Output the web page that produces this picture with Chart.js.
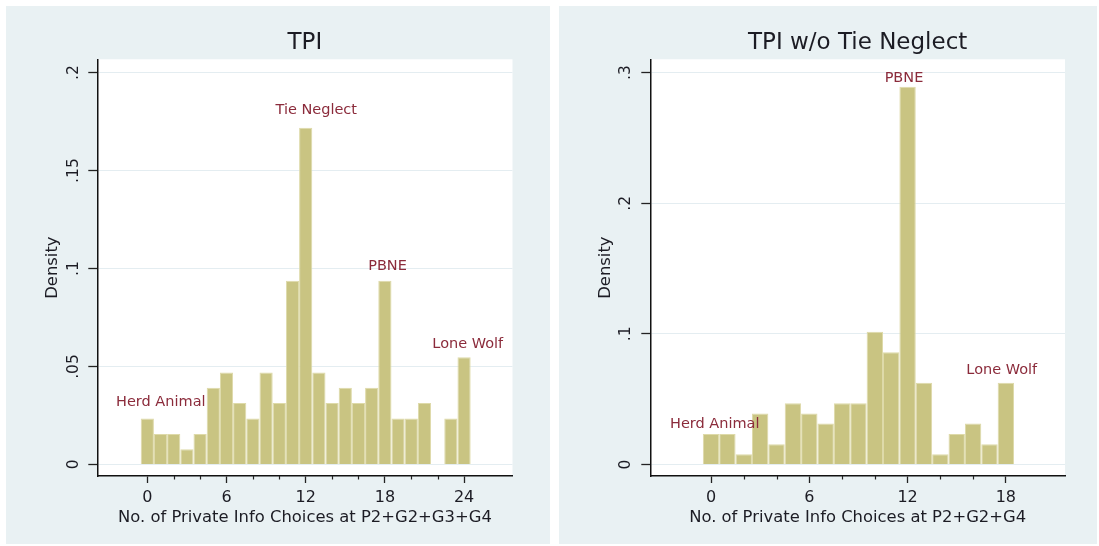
<!DOCTYPE html>
<html>
<head>
<meta charset="utf-8">
<script src="https://cdn.jsdelivr.net/npm/chart.js@4.4.1/dist/chart.umd.min.js"></script>
<style>
body{margin:0;background:#fff;width:1099px;height:546px;overflow:hidden;position:relative}
.panel{position:absolute;top:6px;height:538px;background:#e9f1f3}
</style>
</head>
<body>
<div class="panel" style="left:6px;width:544px"><canvas id="c1"></canvas></div>
<div class="panel" style="left:559px;width:538px"><canvas id="c2"></canvas></div>
<script>
// left panel: TPI
var leftValues = [0,1,2,3,4,5,6,7,8,9,10,11,12,13,14,15,16,17,18,19,20,21,22,23,24];
var leftDensity = [.0234,.0156,.0156,.0078,.0156,.0391,.0469,.0313,.0234,.0469,.0313,.0938,.1719,.0469,.0313,.0391,.0313,.0391,.0938,.0234,.0234,.0313,0,.0234,.0547];
var leftXTicks = [0,6,12,18,24];
var leftXMinor = [2,4,8,10,14,16,20,22];
var leftYTicks = [0,.05,.1,.15,.2];
var leftYLabels = ['0','.05','.1','.15','.2'];
var leftNotes = ['Herd Animal','Tie Neglect','PBNE','Lone Wolf'];
var leftNoteX = [1.02,12.8,18.2,24.28];
var leftNoteY = [.0317,.181,.101,.0615];

// right panel: TPI w/o Tie Neglect
var rightValues = [0,1,2,3,4,5,6,7,8,9,10,11,12,13,14,15,16,17,18];
var rightDensity = [.0234,.0234,.0078,.0391,.0156,.0469,.0391,.0313,.0469,.0469,.1016,.0859,.2891,.0625,.0078,.0234,.0313,.0156,.0625];
var rightXTicks = [0,6,12,18];
var rightXMinor = [2,4,8,10,14,16];
var rightYTicks = [0,.1,.2,.3];
var rightYLabels = ['0','.1','.2','.3'];
var rightNotes = ['Herd Animal','PBNE','Lone Wolf'];
var rightNoteX = [.23,11.78,17.75];
var rightNoteY = [.0309,.296,.0719];

Chart.defaults.font.family = '"DejaVu Sans", sans-serif';
var txt = '#1c1c24';

function hist(ctx,title,xTitle,cats,dens,xr,yr,xTicks,xMinor,yTicks,yLabels,yPad,notes,nx,ny,padRight){
    new Chart(ctx, {
        type: 'bar',
        data: {
            labels: cats,
            datasets: [{
                data: dens,
                backgroundColor: function(c){ return c.raw ? '#c9c482' : 'rgba(0,0,0,0)'; },
                borderColor: '#dedaa9',
                borderWidth: function(c){ return c.raw ? 1 : 0; },
                inflateAmount: 0,
                borderSkipped: 'start',
                barPercentage: 1,
                categoryPercentage: 1
            }]
        },
        options: {
            responsive: true,
            maintainAspectRatio: false,
            animation: false,
            layout: { padding: { left: 0, top: 53.3, right: padRight, bottom: 0 } },
            plugins: { legend: { display: false }, tooltip: { enabled: false } },
            scales: {
                x: {
                    type: 'linear', min: xr[0], max: xr[1], offset: false,
                    afterBuildTicks: function(s){ s.ticks = xTicks.map(function(v){ return {value: v}; }); },
                    afterFit: function(s){ s.height = 68; },
                    ticks: { color: txt, font: { size: 16 }, padding: 5, maxRotation: 0, autoSkip: false,
                        callback: function(v){ return String(v); } },
                    grid: { offset: false, drawOnChartArea: false, tickColor: '#222', tickLength: 7, tickWidth: 1.3 },
                    border: { color: '#111', width: 1.5 },
                    title: { display: true, text: xTitle, color: txt, font: { size: 16.4 }, padding: { top: 0, bottom: 16 } }
                },
                y: {
                    min: yr[0], max: yr[1],
                    afterBuildTicks: function(s){ s.ticks = yTicks.map(function(v){ return {value: v}; }); },
                    afterFit: function(s){ s.width = 91.3; },
                    ticks: { color: txt, font: { size: 15.5 }, minRotation: 90, maxRotation: 90, crossAlign: 'center', padding: yPad,
                        callback: function(v){ var i = yTicks.indexOf(v); return i < 0 ? '' : yLabels[i]; } },
                    grid: { color: '#e4edf1', lineWidth: 1, tickColor: '#222', tickLength: 9, tickWidth: 1.3 },
                    border: { color: '#111', width: 1.5 },
                    title: { display: true, text: 'Density', color: txt, font: { size: 16.4 }, padding: { top: 37 } }
                }
            }
        },
        plugins: [{
            id: 'stataLook',
            beforeDraw: function(chart){
                var a = chart.chartArea, c = chart.ctx;
                c.save();
                c.fillStyle = '#ffffff';
                c.fillRect(a.left, a.top, a.right - a.left, a.bottom - a.top);
                c.restore();
            },
            afterDraw: function(chart){
                var a = chart.chartArea, c = chart.ctx, sx = chart.scales.x, sy = chart.scales.y;
                c.save();
                // minor ticks
                c.strokeStyle = '#222';
                c.lineWidth = 1.2;
                xMinor.forEach(function(v){
                    var px = Math.round(sx.getPixelForValue(v)) + 0.5;
                    c.beginPath(); c.moveTo(px, a.bottom); c.lineTo(px, a.bottom + 3.5); c.stroke();
                });
                // title
                c.fillStyle = txt;
                c.font = '23px "DejaVu Sans"';
                c.textAlign = 'center';
                c.textBaseline = 'alphabetic';
                c.fillText(title, (a.left + a.right) / 2, a.top - 10);
                // marker labels
                c.fillStyle = '#8b2b3b';
                c.font = '14.5px "DejaVu Sans"';
                c.textBaseline = 'middle';
                notes.forEach(function(t, i){
                    c.fillText(t, sx.getPixelForValue(nx[i]), sy.getPixelForValue(ny[i]));
                });
                c.restore();
            }
        }]
    });
}

hist(document.getElementById('c1'), 'TPI', 'No. of Private Info Choices at P2+G2+G3+G4',
    leftValues, leftDensity, [-3.79, 27.67], [-0.0059, 0.2068],
    leftXTicks, leftXMinor, leftYTicks, leftYLabels, 2, leftNotes, leftNoteX, leftNoteY, 37.5);
hist(document.getElementById('c2'), 'TPI w/o Tie Neglect', 'No. of Private Info Choices at P2+G2+G4',
    rightValues, rightDensity, [-3.706, 21.61], [-0.0088, 0.3102],
    rightXTicks, rightXMinor, rightYTicks, rightYLabels, 8, rightNotes, rightNoteX, rightNoteY, 32);
</script>
</body>
</html>
